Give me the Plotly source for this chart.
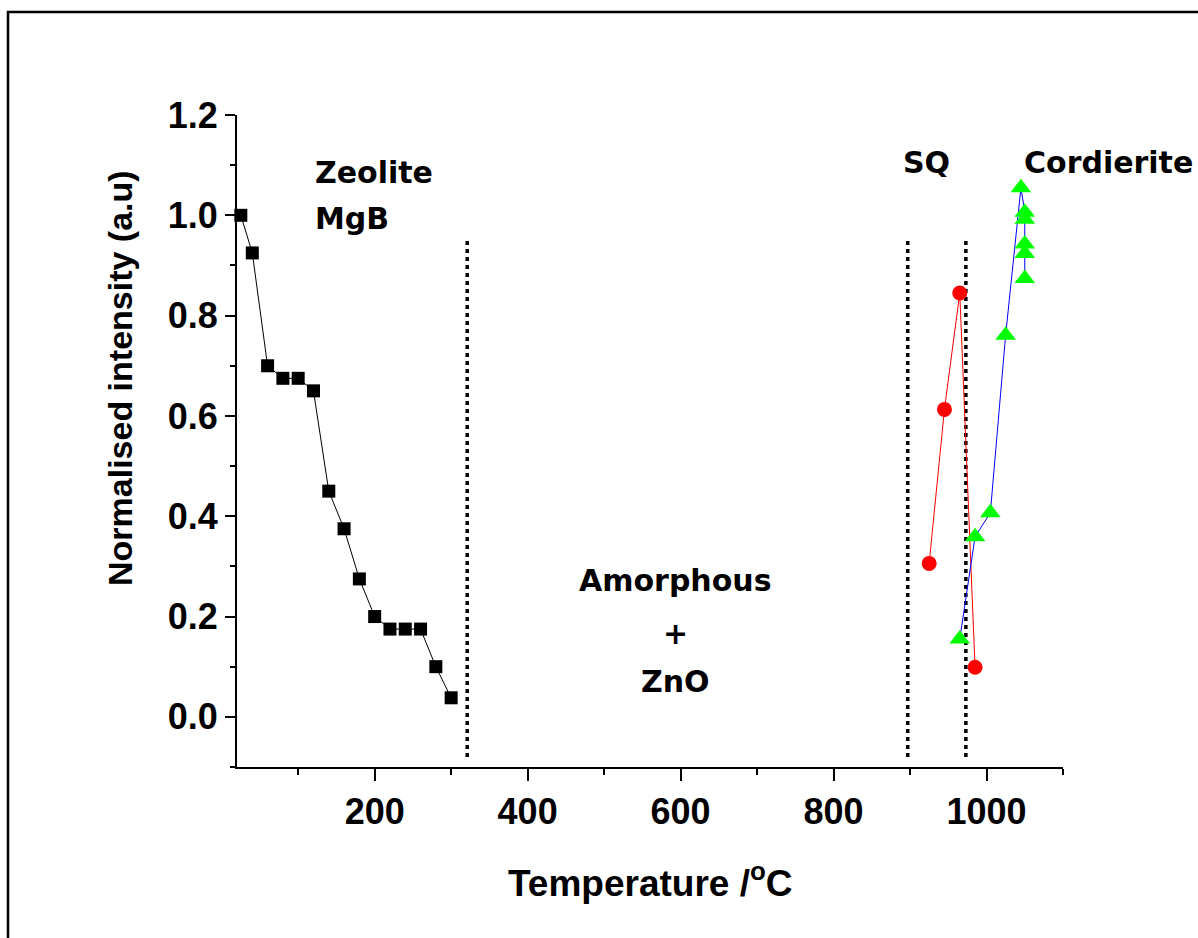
import plotly.graph_objects as go

# ---- data ----
zeolite_T = [25, 40, 60, 80, 100, 120, 140, 160, 180, 200, 220, 240, 260, 280, 300]
zeolite_I = [1.0, 0.925, 0.70, 0.675, 0.675, 0.65, 0.45, 0.375, 0.275, 0.20, 0.175, 0.175, 0.175, 0.10, 0.038]

sq_T = [925, 945, 965, 985]
sq_I = [0.306, 0.613, 0.845, 0.099]

cord_T = [965, 985, 1005, 1025, 1045, 1050, 1050, 1050, 1050, 1050]
cord_I = [0.155, 0.359, 0.407, 0.761, 1.055, 1.006, 0.992, 0.943, 0.924, 0.874]

boundary_T = [321, 897, 973]
boundary_I = [-0.08, 0.95]

x_ticks = [200, 400, 600, 800, 1000]
y_ticks = [0.0, 0.2, 0.4, 0.6, 0.8, 1.0, 1.2]

W, H = 1198, 938
ML, MR, MT, MB = 237, 135, 115, 171
PW, PH = W - ML - MR, H - MT - MB

def px_x(p):
    return (p - ML) / PW

def px_y(p):
    return (H - MB - p) / PH

fig = go.Figure()

for bx in boundary_T:
    fig.add_trace(go.Scatter(
        x=[bx, bx], y=boundary_I, mode="lines",
        line=dict(color="black", width=3.5, dash="4px,4px"),
        hoverinfo="skip", showlegend=False))

fig.add_trace(go.Scatter(
    x=zeolite_T, y=zeolite_I, mode="lines+markers",
    line=dict(color="black", width=1),
    marker=dict(symbol="square", size=13, color="black"),
    cliponaxis=False, showlegend=False))

fig.add_trace(go.Scatter(
    x=sq_T, y=sq_I, mode="lines+markers",
    line=dict(color="red", width=1),
    marker=dict(symbol="circle", size=15, color="red"),
    cliponaxis=False, showlegend=False))

fig.add_trace(go.Scatter(
    x=cord_T, y=cord_I, mode="lines+markers",
    line=dict(color="blue", width=1),
    marker=dict(symbol="triangle-up", size=18, color="#00FF00"),
    cliponaxis=False, showlegend=False))

ann_font = dict(family="DejaVu Sans", size=30, color="black", weight="bold")
annotations = [
    dict(x=px_x(313), y=px_y(172), text="Zeolite", xanchor="left"),
    dict(x=px_x(313), y=px_y(219), text="MgB", xanchor="left"),
    dict(x=px_x(926), y=px_y(162), text="SQ", xanchor="center"),
    dict(x=px_x(1022), y=px_y(162), text="Cordierite", xanchor="left"),
    dict(x=px_x(675), y=px_y(580), text="Amorphous", xanchor="center"),
    dict(x=px_x(675), y=px_y(633), text="+", xanchor="center"),
    dict(x=px_x(675), y=px_y(681), text="ZnO", xanchor="center"),
]
for a in annotations:
    fig.add_annotation(xref="paper", yref="paper", yanchor="middle",
                       showarrow=False, font=ann_font, **a)

title_font = dict(family="Liberation Sans, Arial", color="black", weight="bold")
fig.add_annotation(xref="paper", yref="paper", x=px_x(650), y=px_y(880),
                   text="Temperature /<sup>o</sup>C", showarrow=False,
                   xanchor="center", yanchor="middle",
                   font=dict(size=37, **title_font))
fig.add_annotation(xref="paper", yref="paper", x=px_x(120), y=px_y(378),
                   text="Normalised intensity (a.u)", showarrow=False,
                   textangle=-90, xanchor="center", yanchor="middle",
                   font=dict(size=34, **title_font))

# outer frame (left + top edges)
fig.add_shape(type="path", xref="paper", yref="paper",
              path=f"M {px_x(8)} {px_y(940)} L {px_x(8)} {px_y(12)} L {px_x(1200)} {px_y(12)}",
              line=dict(color="black", width=2.5))

tick_font = dict(family="Liberation Sans, Arial", size=36, color="black", weight="bold")
fig.update_xaxes(range=[20, 1100], tickvals=x_ticks, ticks="outside", ticklen=12,
                 tickwidth=2, tickcolor="black", showline=True, linewidth=2,
                 linecolor="black", showgrid=False, zeroline=False,
                 tickfont=tick_font,
                 minor=dict(dtick=100, tick0=0, ticks="outside", ticklen=6,
                            tickwidth=2, tickcolor="black"))
fig.update_yaxes(range=[-0.1, 1.2], tickvals=y_ticks, tickformat=".1f",
                 ticks="outside", ticklen=10, tickwidth=2, tickcolor="black",
                 showline=True, linewidth=2, linecolor="black", showgrid=False,
                 zeroline=False, tickfont=tick_font,
                 minor=dict(dtick=0.1, tick0=0, ticks="outside", ticklen=5,
                            tickwidth=2, tickcolor="black"))

fig.update_layout(width=W, height=H, autosize=False,
                  margin=dict(l=ML, r=MR, t=MT, b=MB, autoexpand=False),
                  plot_bgcolor="white", paper_bgcolor="white")

fig.write_html("out.html")
